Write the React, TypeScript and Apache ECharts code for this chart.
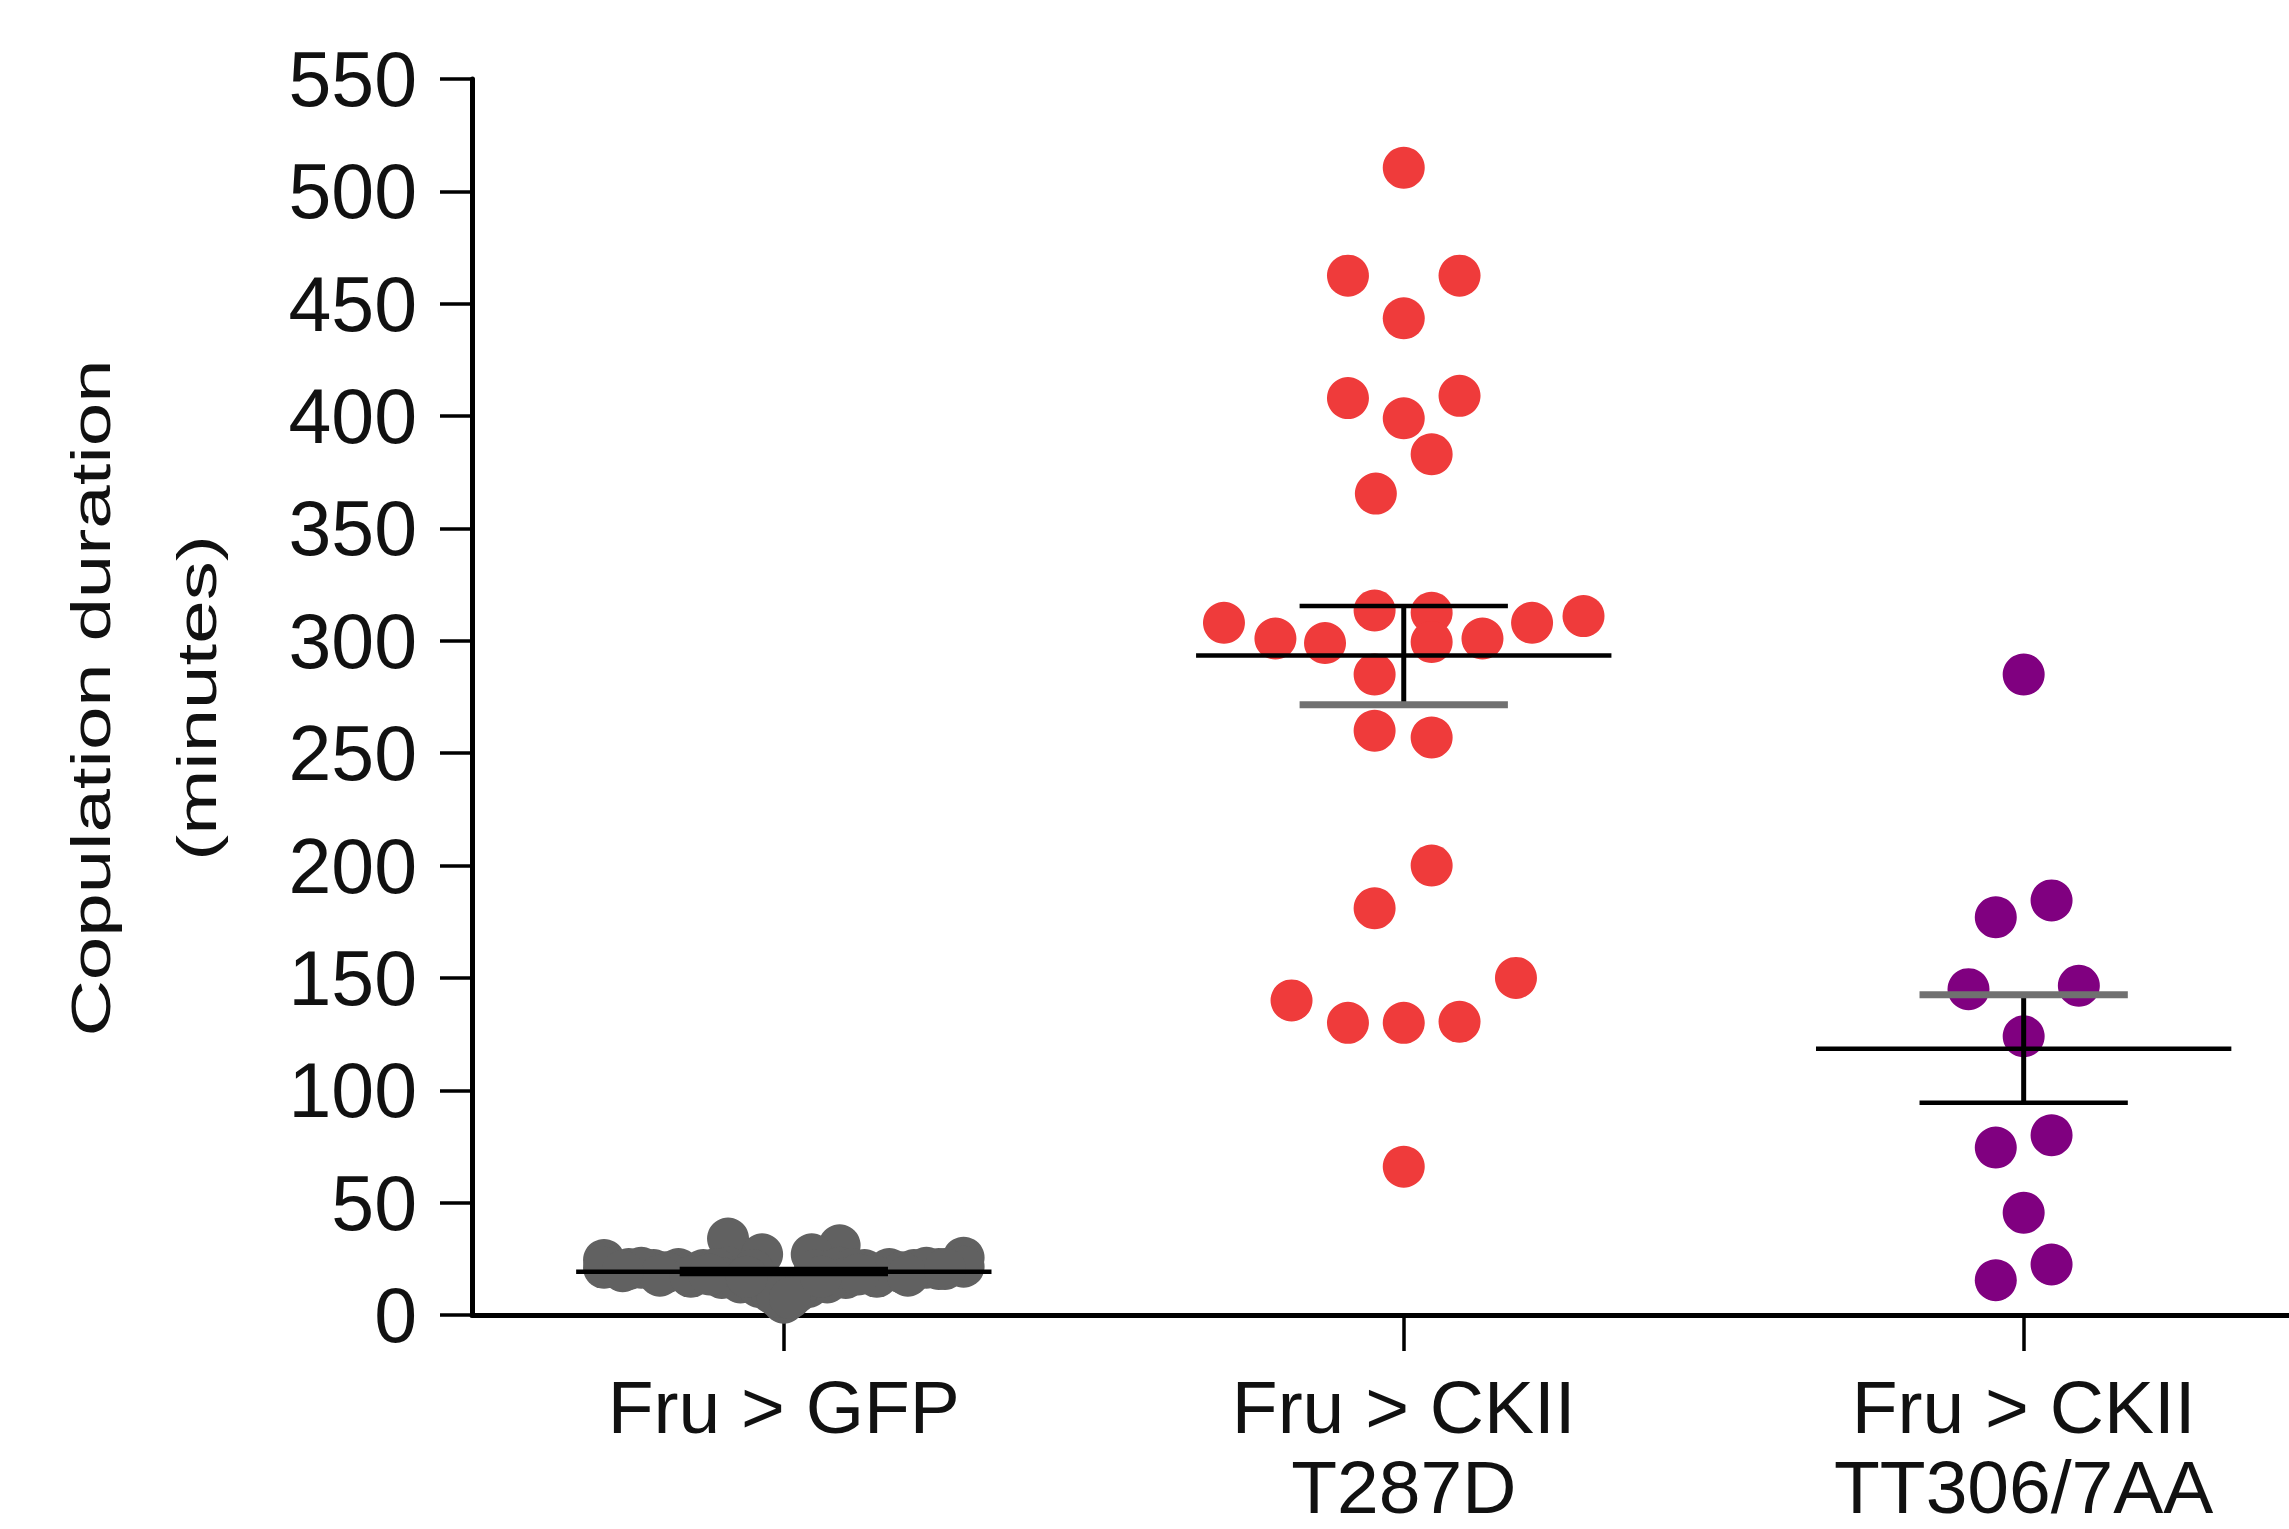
import React, { useEffect, useRef } from "react";
import * as echarts from "echarts";

// ---------- data ----------
const categories = ["Fru > GFP", "Fru > CKII\nT287D", "Fru > CKII\nTT306/7AA"];
const categoryPositions = [0, 1, 2];

const yMin = 0;
const yMax = 550;
const yInterval = 50;

// Fru > GFP (horizontal offset within group, value in minutes)
const gfpOffsets = [
  -0.29, -0.09, -0.035, 0.09, 0.045, 0.29,
  -0.25, -0.21, -0.17, -0.13, -0.09, -0.05, 0.05, 0.09, 0.13, 0.17, 0.21, 0.25,
  -0.29, 0.29, -0.23, 0.23, -0.11, 0.11, -0.19, 0.19,
  -0.2, -0.15, -0.1, 0.1, 0.15, 0.2, -0.26, 0.26,
  -0.07, 0.07, -0.04, 0.04, -0.02, 0.02, 0, -0.01, 0.01,
  -0.12, 0.12, -0.06, 0.06,
];
const gfpValues = [
  24.5, 34, 27, 31, 27, 25.5,
  20.5, 20, 20.5, 20, 21, 20, 20, 21, 20, 20.5, 20, 20.5,
  21, 21.5, 21, 21, 20.5, 20.5, 19, 19,
  17.5, 17, 16.5, 16.5, 17, 17.5, 19.5, 20.5,
  14.5, 14.5, 12.5, 12.5, 10, 10, 5.5, 8, 7.5,
  18, 18, 17, 17,
];

// Fru > CKII T287D
const t287dOffsets = [
  0, -0.09, 0.09, 0, -0.09, 0.09, 0, 0.045, -0.045,
  -0.29, -0.207, -0.127, -0.047, 0.045, 0.045, 0.127, 0.207, 0.29,
  -0.047, -0.047, 0.045, 0.045, -0.047,
  0.181, -0.181, -0.09, 0, 0.09, 0,
];
const t287dValues = [
  510.5, 462.5, 462.5, 443.5, 408, 409, 399, 383, 365.5,
  308, 301, 299, 313.5, 312.5, 299.5, 301, 308, 311,
  285, 260, 257, 200, 181,
  150, 140, 130, 130, 130.5, 66,
];

// Fru > CKII TT306/7AA
const tt306Offsets = [0, -0.045, 0.045, -0.089, 0.089, 0, -0.045, 0.045, 0, -0.045, 0.045];
const tt306Values = [285, 177, 184.5, 145, 146.5, 124, 74.5, 80, 45.5, 15.5, 22.5];

// mean and SEM per group
const means = [19.3, 293.5, 118.5];
const semLower = [18.2, 271.5, 94.5];
const semUpper = [20.5, 315.5, 142.5];

// ---------- styling ----------
const FONT = "'Liberation Sans', Arial, Helvetica, sans-serif";
const groupColors = ["#616161", "#ef3b3b", "#800080"];
const lowerCapColors = ["#000000", "#707070", "#000000"];
const upperCapColors = ["#000000", "#000000", "#707070"];
const MEAN_HALF = 0.335;
const CAP_HALF = 0.168;

function pointsFor(groupIndex: number, offsets: number[], values: number[]) {
  return values.map((v, i) => [categoryPositions[groupIndex] + offsets[i], v]);
}

export default function App() {
  const ref = useRef<HTMLDivElement>(null);

  useEffect(() => {
    if (!ref.current) return;
    const chart = echarts.init(ref.current, undefined, { renderer: "svg" });

    const errorData = means.map((m, i) => [categoryPositions[i], m, semLower[i], semUpper[i]]);

    const option: any = {
      animation: false,
      backgroundColor: "#ffffff",
      grid: { left: 472, right: 0, top: 79, bottom: 214, containLabel: false, outerBoundsMode: "none" },
      xAxis: {
        type: "value",
        min: -0.503,
        max: 2.428,
        splitLine: { show: false },
        axisLine: { show: true, onZero: false, lineStyle: { color: "#000", width: 5 } },
        axisTick: {
          show: true,
          customValues: categoryPositions,
          length: 36,
          lineStyle: { color: "#000", width: 3.5 },
        },
        axisLabel: {
          show: true,
          customValues: categoryPositions,
          formatter: (v: number) => categories[Math.round(v)] ?? "",
          fontSize: 75,
          lineHeight: 80,
          margin: 52,
          color: "#111",
          fontFamily: FONT,
          align: "center",
        },
      },
      yAxis: {
        type: "value",
        min: yMin,
        max: yMax,
        interval: yInterval,
        splitLine: { show: false },
        axisLine: { show: true, onZero: false, lineStyle: { color: "#000", width: 5 } },
        axisTick: { show: true, length: 32, lineStyle: { color: "#000", width: 3.5 } },
        axisLabel: {
          fontSize: 77,
          margin: 55,
          color: "#111",
          fontFamily: FONT,
          showMinLabel: true,
          showMaxLabel: true,
        },
      },
      graphic: [
        {
          type: "text",
          x: 91,
          y: 698,
          rotation: Math.PI / 2,
          scaleX: 1.42,
          style: {
            text: "Copulation duration",
            fontSize: 55,
            fontFamily: FONT,
            fill: "#111",
            align: "center",
            verticalAlign: "middle",
          },
        },
        {
          type: "text",
          x: 197,
          y: 698,
          rotation: Math.PI / 2,
          scaleX: 1.42,
          style: {
            text: "(minutes)",
            fontSize: 55,
            fontFamily: FONT,
            fill: "#111",
            align: "center",
            verticalAlign: "middle",
          },
        },
      ],
      series: [
        {
          type: "scatter",
          data: pointsFor(0, gfpOffsets, gfpValues),
          symbol: "circle",
          symbolSize: 42,
          itemStyle: { color: groupColors[0], opacity: 1 },
          clip: false,
          z: 2,
        },
        {
          type: "scatter",
          data: pointsFor(1, t287dOffsets, t287dValues),
          symbol: "circle",
          symbolSize: 42,
          itemStyle: { color: groupColors[1], opacity: 1 },
          clip: false,
          z: 2,
        },
        {
          type: "scatter",
          data: pointsFor(2, tt306Offsets, tt306Values),
          symbol: "circle",
          symbolSize: 42,
          itemStyle: { color: groupColors[2], opacity: 1 },
          clip: false,
          z: 2,
        },
        {
          type: "custom",
          data: errorData,
          encode: { x: 0, y: [1, 2, 3] },
          clip: false,
          z: 5,
          renderItem: (params: any, api: any) => {
            const idx = params.dataIndex;
            const x = api.value(0);
            const m = api.value(1);
            const lo = api.value(2);
            const hi = api.value(3);
            const pm = api.coord([x, m]);
            const pl = api.coord([x, lo]);
            const ph = api.coord([x, hi]);
            const meanHalf = api.size([MEAN_HALF, 0])[0];
            const capHalf = api.size([CAP_HALF, 0])[0];
            const lowGray = lowerCapColors[idx] !== "#000000";
            const highGray = upperCapColors[idx] !== "#000000";
            return {
              type: "group",
              children: [
                {
                  type: "line",
                  shape: { x1: pl[0], y1: pl[1], x2: ph[0], y2: ph[1] },
                  style: { stroke: "#000", lineWidth: 5 },
                },
                {
                  type: "line",
                  shape: { x1: pl[0] - capHalf, y1: pl[1], x2: pl[0] + capHalf, y2: pl[1] },
                  style: { stroke: lowerCapColors[idx], lineWidth: lowGray ? 7 : 4.5 },
                },
                {
                  type: "line",
                  shape: { x1: ph[0] - capHalf, y1: ph[1], x2: ph[0] + capHalf, y2: ph[1] },
                  style: { stroke: upperCapColors[idx], lineWidth: highGray ? 7 : 4.5 },
                },
                {
                  type: "line",
                  shape: { x1: pm[0] - meanHalf, y1: pm[1], x2: pm[0] + meanHalf, y2: pm[1] },
                  style: { stroke: "#000", lineWidth: 4.5 },
                },
              ],
            };
          },
        },
      ],
    };

    chart.setOption(option);
    return () => chart.dispose();
  }, []);

  return (
    <div
      ref={ref}
      style={{ position: "fixed", left: 0, top: 0, width: 2289, height: 1529, background: "#fff" }}
    />
  );
}
